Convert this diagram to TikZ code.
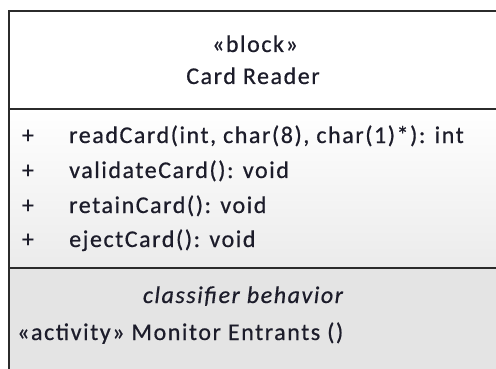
\documentclass[tikz,border=0pt]{standalone}
\usepackage{fontspec}
\setmainfont{Carlito}[LetterSpace=6.5,FakeBold=0.6]
\definecolor{edge}{HTML}{2B2B2B}
\definecolor{txt}{HTML}{1C1C2A}
\definecolor{opsbot}{HTML}{EBEBEB}
\definecolor{behfill}{HTML}{E4E4E4}
\begin{document}
\begin{tikzpicture}[x=1pt,y=-1pt,
  label/.style={inner sep=0pt,text=txt,font=\fontsize{24}{28}\selectfont},
  border/.style={draw=edge,line width=1.6pt}]
\useasboundingbox (0,0) rectangle (496,369);
\clip (0,0) rectangle (496,369);
% compartments
\fill[white] (9,11) rectangle (505,109);
\shade[top color=white,bottom color=opsbot] (9,109) rectangle (505,268);
\fill[behfill] (9,268) rectangle (505,380);
\draw[border] (505,11) -- (9,11) -- (9,380);
\draw[border] (9,109) -- (505,109);
\draw[border] (9,268) -- (505,268);
% header
\node[label,anchor=base] (st) at (255,52) {«block»};
\node[label,anchor=base] (nm) at (253,84) {Card Reader};
% operations
\node[label,anchor=base] (p1) at (28,143) {+};
\node[label,anchor=base west] (o1) at (69,143) {readCard(int, char(8), char(1)*): int};
\node[label,anchor=base] (p2) at (28,178) {+};
\node[label,anchor=base west] (o2) at (69,178) {validateCard(): void};
\node[label,anchor=base] (p3) at (28,213) {+};
\node[label,anchor=base west] (o3) at (69,213) {retainCard(): void};
\node[label,anchor=base] (p4) at (28,247) {+};
\node[label,anchor=base west] (o4) at (69,247) {ejectCard(): void};
% behavior
\node[label,anchor=base,font=\fontsize{24}{28}\selectfont\itshape] (cb) at (243,303) {classifier behavior};
\node[label,anchor=base west] (act) at (17,340) {«activity» Monitor Entrants ()};
\end{tikzpicture}
\end{document}
